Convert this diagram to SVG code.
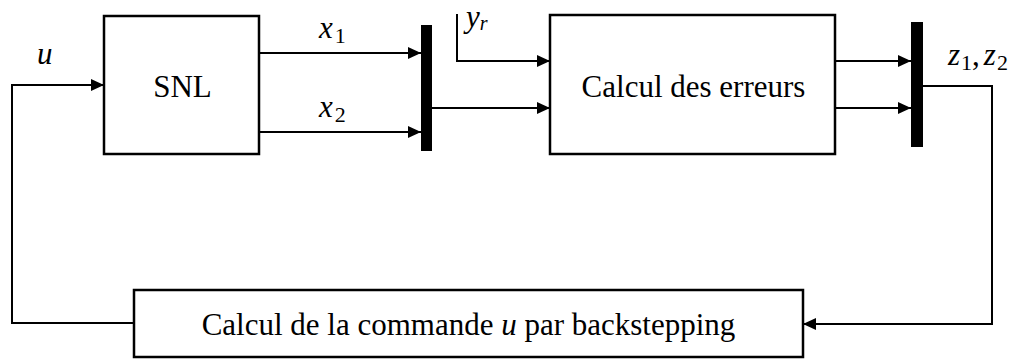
<svg xmlns="http://www.w3.org/2000/svg" width="1015" height="359" viewBox="0 0 1015 359">
  <style>
    .box { fill: #ffffff; stroke: #000000; stroke-width: 2.5; }
    .bar { fill: #000000; }
    .wire { fill: none; stroke: #000000; stroke-width: 2; }
    .lbl { font-family: "Liberation Serif", "Times New Roman", serif; font-size: 31px; fill: #000000; text-anchor: middle; }
    .math { font-family: "Liberation Serif", "Times New Roman", serif; font-size: 31px; font-style: italic; fill: #000000; }
    .sub { font-style: normal; font-size: 22px; }
    .sub-it { font-style: italic; font-size: 20px; }
  </style>
  <defs>
    <marker id="arrow" markerUnits="userSpaceOnUse" markerWidth="14" markerHeight="12" refX="13" refY="6" orient="auto">
      <path d="M0,0 L13,6 L0,12 z" fill="#000000"/>
    </marker>
  </defs>

  <!-- plant block -->
  <g id="snl">
    <rect class="box" x="104" y="16" width="155" height="138"/>
    <text class="lbl" x="182.5" y="97">SNL</text>
  </g>

  <!-- state multiplexer -->
  <g id="mux1">
    <rect class="bar" x="421" y="25" width="11" height="126"/>
  </g>

  <!-- error computation block -->
  <g id="erreurs">
    <rect class="box" x="550" y="15" width="285" height="139"/>
    <text class="lbl" x="693.5" y="97">Calcul des erreurs</text>
  </g>

  <!-- error multiplexer -->
  <g id="mux2">
    <rect class="bar" x="911" y="22" width="12" height="125"/>
  </g>

  <!-- backstepping control block -->
  <g id="commande">
    <rect class="box" x="134" y="290" width="669" height="67"/>
    <text class="lbl" x="468.5" y="335">Calcul de la commande <tspan font-style="italic">u</tspan> par backstepping</text>
  </g>

  <!-- connectors -->
  <g id="connectors">
    <polyline class="wire" points="134,323 12,323 12,85 104,85" marker-end="url(#arrow)"/>
    <line class="wire" x1="259" y1="53" x2="421" y2="53" marker-end="url(#arrow)"/>
    <line class="wire" x1="259" y1="132" x2="421" y2="132" marker-end="url(#arrow)"/>
    <line class="wire" x1="432" y1="108" x2="550" y2="108" marker-end="url(#arrow)"/>
    <polyline class="wire" points="457,14 457,61 550,61" marker-end="url(#arrow)"/>
    <line class="wire" x1="835" y1="61" x2="911" y2="61" marker-end="url(#arrow)"/>
    <line class="wire" x1="835" y1="108" x2="911" y2="108" marker-end="url(#arrow)"/>
    <polyline class="wire" points="923,86 992,86 992,324 803,324" marker-end="url(#arrow)"/>
  </g>

  <!-- signal labels -->
  <g id="labels">
    <text class="math" x="37" y="64">u</text>
    <text class="math" x="319" y="38">x<tspan class="sub" dx="2" dy="5">1</tspan></text>
    <text class="math" x="319" y="117">x<tspan class="sub" dx="2" dy="5">2</tspan></text>
    <text class="math" x="466" y="27" font-size="26">y<tspan class="sub-it" dy="3">r</tspan></text>
    <text class="math" x="948" y="65">z<tspan class="sub" dx="1" dy="5">1</tspan><tspan dy="-5" style="font-style:normal">,</tspan><tspan dx="4">z</tspan><tspan class="sub" dx="1" dy="5">2</tspan></text>
  </g>
</svg>
